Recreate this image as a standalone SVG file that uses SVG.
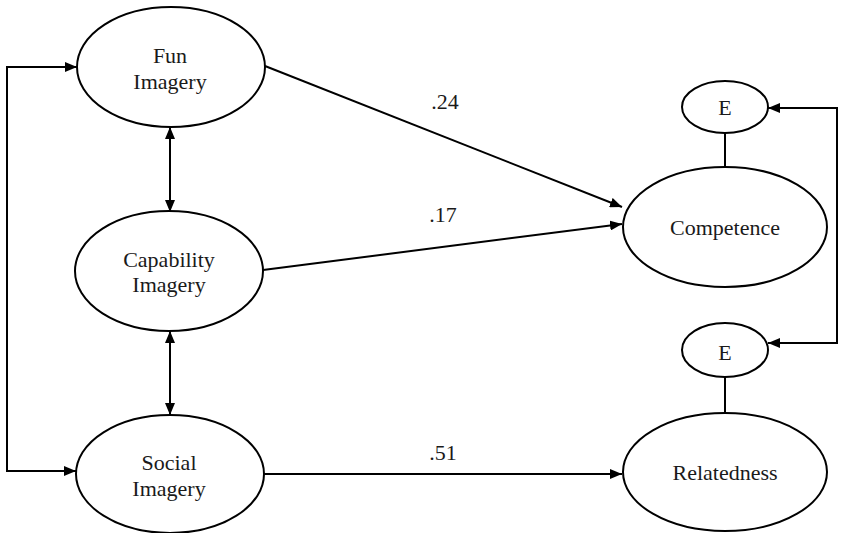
<svg xmlns="http://www.w3.org/2000/svg" width="842" height="533" viewBox="0 0 842 533">
<style>
.n{fill:#fff;stroke:#000;stroke-width:2}
.t{font-family:"Liberation Serif","Times New Roman",serif;font-size:22px;fill:#1a1a1a;text-anchor:middle}
.c{fill:none;stroke:#000;stroke-width:2}
</style>
<defs>
<marker id="ah" viewBox="0 0 12 10" refX="12" refY="5" markerWidth="12" markerHeight="10" markerUnits="userSpaceOnUse" orient="auto-start-reverse">
<path d="M0,0 L12,5 L0,10 Z" fill="#000"/>
</marker>
</defs>
<rect width="842" height="533" fill="#fff"/>
<g id="connectors">
<path class="c" d="M77,67 H7 V471 H76" marker-start="url(#ah)" marker-end="url(#ah)"/>
<line class="c" x1="170" y1="127" x2="170" y2="212" marker-start="url(#ah)" marker-end="url(#ah)"/>
<line class="c" x1="170" y1="331" x2="170" y2="415" marker-start="url(#ah)" marker-end="url(#ah)"/>
<line class="c" x1="265" y1="66" x2="622" y2="207" marker-end="url(#ah)"/>
<line class="c" x1="263" y1="270" x2="622" y2="224" marker-end="url(#ah)"/>
<line class="c" x1="263" y1="474" x2="622" y2="474" marker-end="url(#ah)"/>
<path class="c" d="M768,108 H837 V343 H768" marker-start="url(#ah)" marker-end="url(#ah)"/>
<line class="c" x1="725" y1="133" x2="725" y2="167"/>
<line class="c" x1="725" y1="377" x2="725" y2="413"/>
<text class="t" x="445" y="109">.24</text>
<text class="t" x="443" y="222">.17</text>
<text class="t" x="443" y="460">.51</text>
</g>
<g id="fun">
<ellipse class="n" cx="171" cy="67" rx="94" ry="60"/>
<text class="t" x="170" y="63">Fun</text>
<text class="t" x="170" y="89">Imagery</text>
</g>
<g id="capability">
<ellipse class="n" cx="169" cy="271" rx="94" ry="60"/>
<text class="t" x="169" y="267">Capability</text>
<text class="t" x="169" y="292">Imagery</text>
</g>
<g id="social">
<ellipse class="n" cx="170" cy="474" rx="94" ry="59"/>
<text class="t" x="169" y="470">Social</text>
<text class="t" x="169" y="496">Imagery</text>
</g>
<g id="e1">
<ellipse class="n" cx="725" cy="107" rx="43" ry="26"/>
<text class="t" x="725" y="115">E</text>
</g>
<g id="competence">
<ellipse class="n" cx="725" cy="227" rx="102" ry="60"/>
<text class="t" x="725" y="235">Competence</text>
</g>
<g id="e2">
<ellipse class="n" cx="725" cy="350" rx="43" ry="27"/>
<text class="t" x="725" y="360">E</text>
</g>
<g id="relatedness">
<ellipse class="n" cx="725" cy="472" rx="102" ry="59"/>
<text class="t" x="725" y="480">Relatedness</text>
</g>
</svg>
